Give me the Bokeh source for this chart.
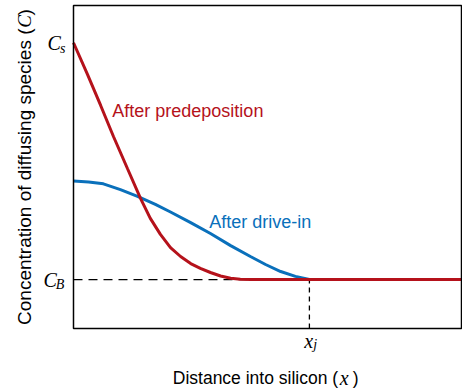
import math
from bokeh.plotting import figure
from bokeh.models import Label, Range1d
from bokeh.embed import file_html
from bokeh.resources import INLINE

# ---- data (arbitrary units: depth 0..10, concentration 0..10) ----
red_x = [0.00, 0.36, 0.70, 1.03, 1.39, 1.73, 1.98, 2.24, 2.50, 2.76, 3.02, 3.27,
         3.53, 3.79, 4.05, 4.30, 4.56, 10.0]
red_c = [8.93, 7.94, 6.97, 6.00, 5.00, 4.06, 3.44, 2.94, 2.53, 2.25, 2.03, 1.88,
         1.75, 1.64, 1.57, 1.54, 1.53, 1.53]

blue_x = [0.00, 0.39, 0.77, 1.21, 1.65, 2.11, 2.50, 3.02, 3.53, 4.05, 4.56, 4.95,
          5.34, 5.72, 6.08, 10.0]
blue_c = [4.61, 4.58, 4.52, 4.34, 4.13, 3.88, 3.64, 3.31, 2.97, 2.59, 2.25, 2.00,
          1.78, 1.63, 1.53, 1.53]

C_S = 8.91
C_B = 1.53
X_J = 6.08
X_MAX = 10.0
C_MAX = 10.094

RED = "#b5121b"
BLUE = "#0a70bb"

SANS = "Liberation Sans"
SERIF = "Liberation Serif"

# whole canvas is the frame; the chart box is drawn at the data domain edges
p = figure(width=462, height=392, output_backend="svg", toolbar_location=None,
           x_axis_type=None, y_axis_type=None,
           x_range=Range1d(-1.8814, 10.0258), y_range=Range1d(-2.0, 10.25),
           min_border=0)
p.grid.visible = False
p.outline_line_color = None
p.background_fill_color = "white"
p.border_fill_color = "white"

# dashed guide lines
p.line([0, X_J], [C_B, C_B], line_color="black", line_width=1.3, line_dash="9 6")
p.line([X_J, X_J], [0, C_B], line_color="black", line_width=1.3, line_dash="5 4")

p.line(blue_x, blue_c, line_color=BLUE, line_width=3)
p.line(red_x, red_c, line_color=RED, line_width=3)

# chart box
p.quad(left=[0], right=[X_MAX], bottom=[0], top=[C_MAX], fill_color=None,
       line_color="black", line_width=1.5)

def lab(x, y, text, font=SANS, size="17px", style="normal", color="black",
        align="left", baseline="alphabetic", angle=0.0):
    p.add_layout(Label(x=x, y=y, text=text, text_font=font, text_font_size=size,
                       text_font_style=style, text_color=color, text_align=align,
                       text_baseline=baseline, angle=angle))

# curve labels
lab(1.00, 6.79, "After predeposition", size="18px", color=RED)
lab(3.50, 3.32, "After drive-in", size="18px", color=BLUE)

# tick-like labels
lab(-0.67, 8.92, "C", font=SERIF, size="20px", style="italic")
lab(-0.35, 8.76, "s", font=SERIF, size="14px", style="italic")
lab(-0.77, 1.51, "C", font=SERIF, size="20px", style="italic")
lab(-0.46, 1.36, "B", font=SERIF, size="14px", style="italic")
lab(5.95, -0.39, "x", font=SERIF, size="20px", style="italic")
lab(6.18, -0.49, "j", font=SERIF, size="14px", style="italic")

# x axis title
lab(6.82, -1.55, "Distance into silicon (", size="17.5px", align="right")
lab(6.86, -1.55, "x", font=SERIF, size="20px", style="italic")
lab(7.20, -1.55, ")", size="17.5px")

# y axis title (rotated)
ya = -1.265
lab(ya, 9.375, "Concentration of diffusing species (", size="19px", align="right",
    angle=math.pi / 2)
lab(ya, 9.40, "C", font=SERIF, size="19px", style="italic", angle=math.pi / 2)
lab(ya, 9.78, ")", size="19px", angle=math.pi / 2)

open("out.html", "w").write(file_html(p, INLINE))
